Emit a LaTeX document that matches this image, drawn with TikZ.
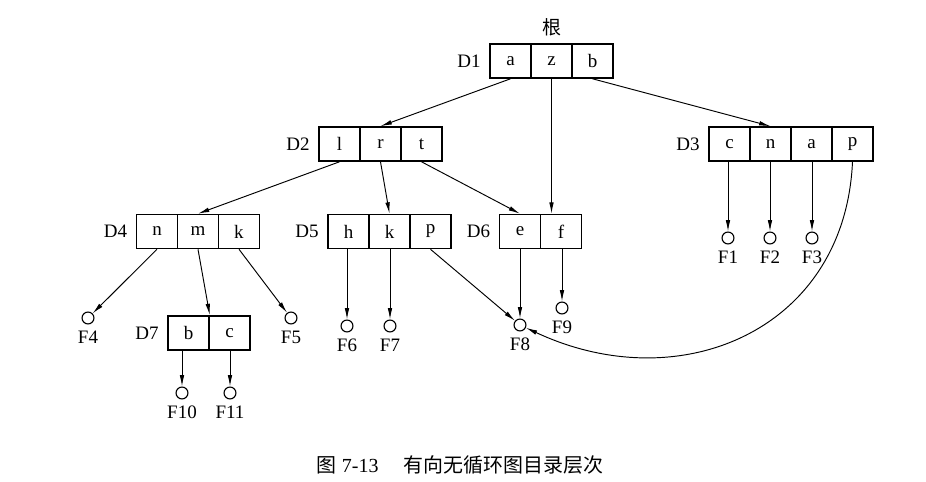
\documentclass[tikz,border=0pt]{standalone}
\usepackage{fontspec}
\setmainfont{Liberation Serif}
\newfontfamily\cjk{Noto Sans CJK SC}
\usepackage{tikz}
\usetikzlibrary{positioning,arrows.meta}
\tikzstyle{cell} = [rectangle, draw, line width=0.8pt,
                    minimum width=0.7585cm, minimum height=0.63cm,
                    inner sep=0pt, text centered]
\tikzstyle{leaf} = [circle, draw, line width=0.6pt,
                    minimum size=0.22cm, inner sep=0pt]
\tikzstyle{link} = [-{Latex[length=6pt,width=2.4pt]}, line width=0.5pt]

\begin{document}
\begin{tikzpicture}[x=0.0185cm, y=-0.0185cm]
    \useasboundingbox (0,0) rectangle (926,482);

    % Directories
    \foreach \i/\txt in {1/a,2/z,3/b}
        \node[cell] (d1\i) at ({469.5+41*\i},61) {\txt};
    \foreach \i/\txt in {1/l,2/r,3/t}
        \node[cell] (d2\i) at ({298.5+41*\i},144) {\txt};
    \foreach \i/\txt in {1/c,2/n,3/a,4/p}
        \node[cell] (d3\i) at ({688.5+41*\i},144) {\txt};
    \foreach \i/\txt in {1/n,2/m,3/k}
        \node[cell] (d4\i) at ({116+41*\i},231.5) {\txt};
    \foreach \i/\txt in {1/h,2/k,3/p}
        \node[cell] (d5\i) at ({307.5+41*\i},231.5) {\txt};
    \foreach \i/\txt in {1/e,2/f}
        \node[cell] (d6\i) at ({479+41*\i},231.5) {\txt};
    \foreach \i/\txt in {1/b,2/c}
        \node[cell] (d7\i) at ({147.5+41*\i},333) {\txt};

    % Directory names
    \node[left=1pt of d11] (n1) {D1};
    \node[left=1pt of d21] (n2) {D2};
    \node[left=1pt of d31] (n3) {D3};
    \node[left=1pt of d41] (n4) {D4};
    \node[left=1pt of d51] (n5) {D5};
    \node[left=1pt of d61] (n6) {D6};
    \node[left=1pt of d71] (n7) {D7};
    \node[above=0pt of d12] (root) {{\cjk 根}};

    % Files
    \foreach \n/\x/\y in {1/728/238,2/770/238,3/812/238,4/88/318,5/291/318,
                          6/347/326,7/390/326,8/520/325,9/562/308,10/182/393,11/230/393}
        \node[leaf, label={[label distance=0pt]below:F\n}] (f\n) at (\x,\y) {};

    % Links between directories
    \draw[link] (d11.south) -- (d22.north);
    \draw[link] (d12.south) -- (d12.south |- d62.north);
    \draw[link] (d13.south) -- (d32.north);
    \draw[link] (d21.south) -- (d42.north);
    \draw[link] (d22.south) -- (d52.north);
    \draw[link] (d23.south) -- (d61.north);
    \draw[link] (d42.south) -- (d71.north east);

    % Links to files
    \foreach \i in {1,2,3}
        \draw[link] (f\i |- d3\i.south) -- (f\i);
    \draw[link] (d41.south) -- (f4);
    \draw[link] (d43.south) -- (f5);
    \draw[link] (f6 |- d51.south) -- (f6);
    \draw[link] (f7 |- d52.south) -- (f7);
    \draw[link] (d53.south) -- (f8);
    \draw[link] (f8 |- d61.south) -- (f8);
    \draw[link] (f9 |- d62.south) -- (f9);
    \draw[link] (f10 |- d71.south) -- (f10);
    \draw[link] (f11 |- d72.south) -- (f11);
    \draw[link] (d34.south) .. controls (845,330) and (680,400) .. (f8);

    % Caption
    \node (cap) at (460,465) {\fontsize{10.5}{12}\selectfont{\cjk 图} 7-13\hspace{1.25em}{\cjk 有向无循环图目录层次}};
\end{tikzpicture}
\end{document}
